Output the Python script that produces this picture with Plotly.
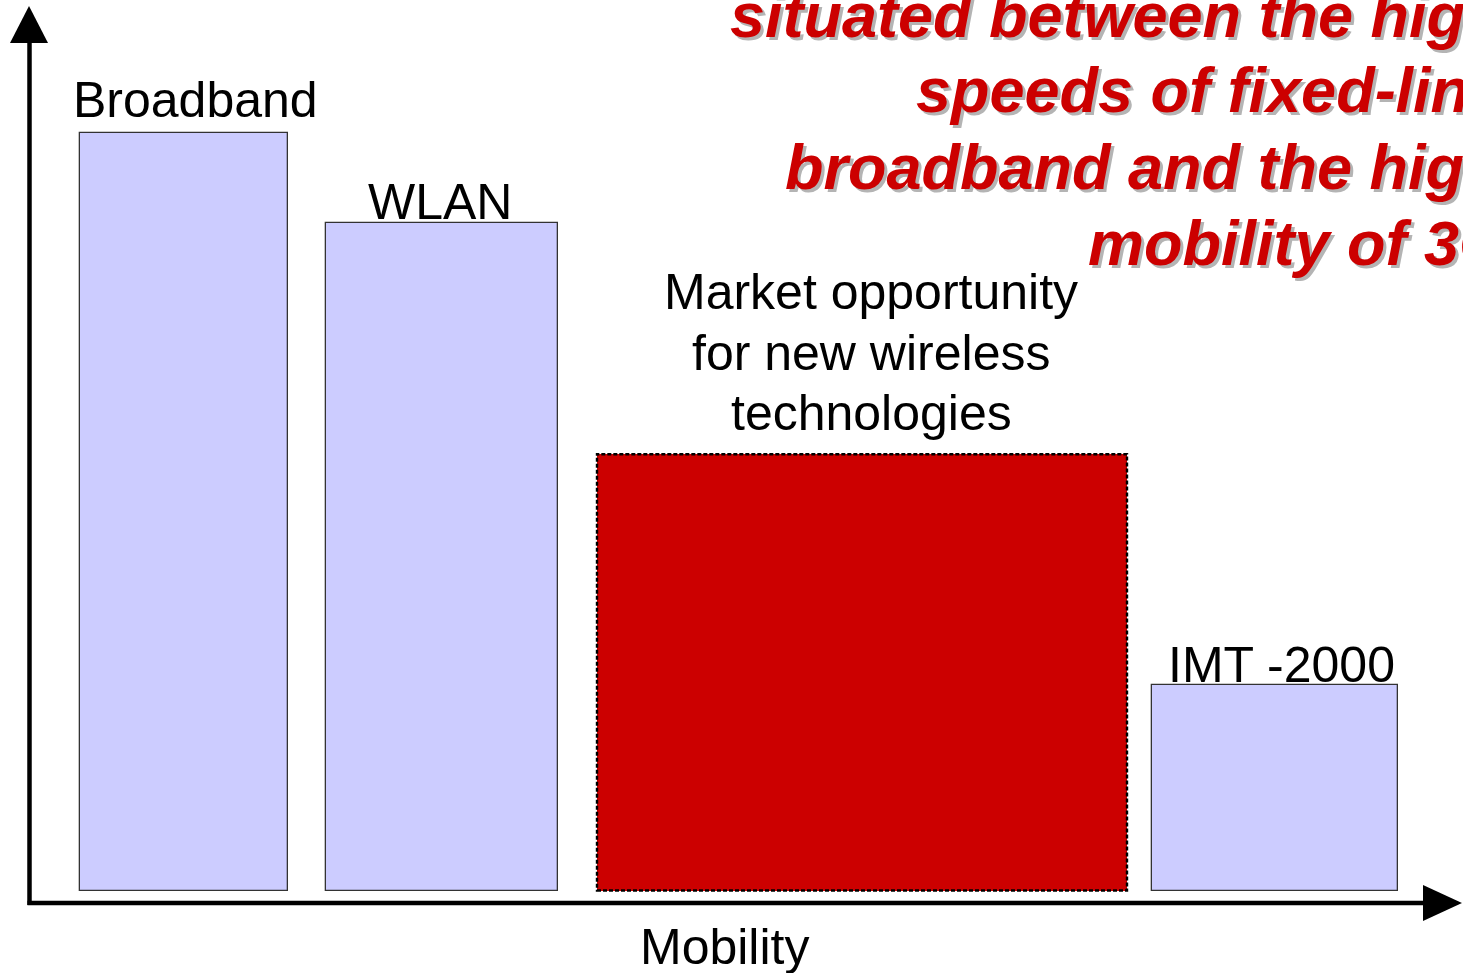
import plotly.graph_objects as go

# ---------------- data ----------------
categories = ["Broadband", "WLAN", "Market opportunity<br>for new wireless<br>technologies", "IMT -2000"]
capacity = [100.0, 88.1, 57.6, 27.1]          # relative height (speed)
mobility_center = [18.4, 44.2, 86.2, 127.5]   # position along mobility axis
mobility_span = [20.8, 23.2, 53.0, 24.6]      # width of the mobility range
headline_lines = ["situated between the high", "speeds of fixed-line",
                  "broadband and the high", "mobility of 3G"]
x_title = "Mobility"

# ---------------- styling ----------------
W, H = 1463, 973
FONT = "Liberation Sans, Arial, sans-serif"
bar_colors = ["#CCCCFF", "#CCCCFF", "#CC0000", "#CCCCFF"]
bar_line_w = [1.3, 1.3, 0, 1.3]
label_baselines = [[118], [220], [310, 371, 431], [683]]
label_xshift = [11, -2, 9, 6]
label_size = 50
head_size = 63
head_baselines = [38, 113, 190, 266]
head_right_px = [1505, 1505, 1503, 1509]
DESC = 0.212  # descent ratio for Liberation Sans

# y-axis: base 0 at pixel 890.5, 100 at pixel 133
px_per_unit = (890.5 - 133) / 100.0
y_lo = -(H - 890.5) / px_per_unit
y_hi = 890.5 / px_per_unit


def px(x):
    return x / W


def py(y):
    return 1 - y / H


fig = go.Figure()
fig.add_trace(go.Bar(
    x=mobility_center, y=capacity, width=mobility_span,
    marker=dict(color=bar_colors, line=dict(color="#333333", width=bar_line_w)),
    hoverinfo="skip", showlegend=False,
))

shapes = []
# dashed outline for the market opportunity box
i = 2
shapes.append(dict(type="rect", xref="x", yref="y",
                   x0=mobility_center[i] - mobility_span[i] / 2,
                   x1=mobility_center[i] + mobility_span[i] / 2,
                   y0=0, y1=capacity[i],
                   line=dict(color="black", width=2.4, dash="4px,2px"),
                   fillcolor="rgba(0,0,0,0)", layer="above"))
# axes with arrows
shapes.append(dict(type="line", xref="paper", yref="paper",
                   x0=px(29.5), x1=px(29.5), y0=py(905), y1=py(40),
                   line=dict(color="black", width=4.5)))
shapes.append(dict(type="line", xref="paper", yref="paper",
                   x0=px(27.5), x1=px(1428), y0=py(903), y1=py(903),
                   line=dict(color="black", width=4.5)))
shapes.append(dict(type="path", xref="paper", yref="paper",
                   path=f"M {px(10)} {py(43)} L {px(48)} {py(43)} L {px(29)} {py(6)} Z",
                   fillcolor="black", line=dict(color="black", width=0)))
shapes.append(dict(type="path", xref="paper", yref="paper",
                   path=f"M {px(1423)} {py(885)} L {px(1423)} {py(921)} L {px(1462)} {py(903)} Z",
                   fillcolor="black", line=dict(color="black", width=0)))

annotations = []
# bar labels
for k, cat in enumerate(categories):
    lines = cat.split("<br>")
    for ln, base in zip(lines, label_baselines[k]):
        annotations.append(dict(
            text=ln, xref="x", yref="paper", x=mobility_center[k], xshift=label_xshift[k],
            y=py(base + DESC * label_size), xanchor="center", yanchor="bottom",
            showarrow=False, borderpad=0,
            font=dict(family=FONT, size=label_size, color="black")))
# x axis title
annotations.append(dict(
    text=x_title, xref="paper", yref="paper", x=px(724), y=py(965 + DESC * label_size),
    xanchor="center", yanchor="bottom", showarrow=False, borderpad=0,
    font=dict(family=FONT, size=label_size, color="black")))
# red headline (runs off the right edge)
for ln, base, rx in zip(headline_lines, head_baselines, head_right_px):
    annotations.append(dict(
        text=ln, xref="paper", yref="paper", x=px(rx),
        y=py(base + DESC * head_size), xanchor="right", yanchor="bottom",
        showarrow=False, borderpad=0,
        font=dict(family=FONT, size=head_size, color="#CC0000", weight="bold",
                  style="italic", shadow="3px 3px 0px #b4b4b4")))

fig.update_layout(
    width=W, height=H, margin=dict(l=0, r=0, t=0, b=0),
    paper_bgcolor="white", plot_bgcolor="white",
    xaxis=dict(range=[0, W / 10], visible=False, fixedrange=True),
    yaxis=dict(range=[y_lo, y_hi], visible=False, fixedrange=True),
    shapes=shapes, annotations=annotations, bargap=0,
)

fig.write_html("out.html", config={"displayModeBar": False},
               post_script="document.body.style.margin='0';document.body.style.overflow='hidden';")
